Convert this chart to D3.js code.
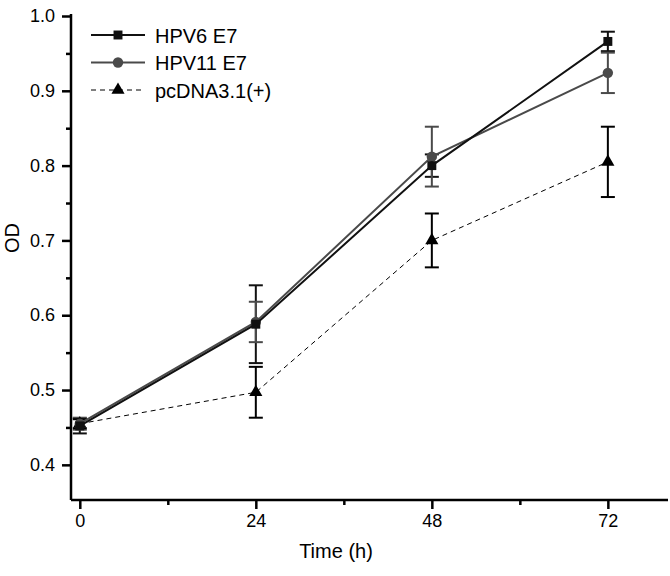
<!DOCTYPE html>
<html><head><meta charset="utf-8">
<script src="https://cdn.jsdelivr.net/npm/d3@7"></script>
<style>body{margin:0;background:#fff}text{font-family:"Liberation Sans",Arial,sans-serif}</style>
</head><body><svg id="c" width="670" height="576"></svg>
<script>
const times = [0, 24, 48, 72];
const hpv6 = [0.452, 0.588, 0.800, 0.966];
const hpv6Err = [0.010, 0.052, 0.015, 0.013];
const hpv11 = [0.455, 0.591, 0.812, 0.924];
const hpv11Err = [0.008, 0.027, 0.040, 0.027];
const pcdna = [0.455, 0.497, 0.700, 0.805];
const pcdnaErr = [0.006, 0.034, 0.036, 0.047];
const seriesNames = ["HPV6 E7", "HPV11 E7", "pcDNA3.1(+)"];
const xTicks = [0, 24, 48, 72];
const yTicks = [0.4, 0.5, 0.6, 0.7, 0.8, 0.9, 1.0];

const svg = d3.select("#c");
const x = d3.scaleLinear().domain([-1.2, 80.2]).range([71, 668]);
const y = d3.scaleLinear().domain([0.353, 1.0]).range([500, 16]);

const series = [
  {name: seriesNames[0], v: hpv6, e: hpv6Err, color: "#111", w: 2, dash: null, sym: d3.symbolSquare, size: 80},
  {name: seriesNames[1], v: hpv11, e: hpv11Err, color: "#4a4a4a", w: 2, dash: null, sym: d3.symbolCircle, size: 85},
  {name: seriesNames[2], v: pcdna, e: pcdnaErr, color: "#000", w: 1, dash: "5,4", sym: d3.symbolTriangle, size: 75}
];

// axes
const gx = svg.append("g").attr("transform", "translate(0,500)");
gx.call(d3.axisBottom(x).tickValues(xTicks).tickSize(9).tickPadding(5).tickFormat(d3.format("d")));
const gxm = svg.append("g").attr("transform", "translate(0,500)");
gxm.call(d3.axisBottom(x).tickValues([12, 36, 60]).tickSize(5).tickFormat(""));
const gy = svg.append("g").attr("transform", "translate(71,0)");
gy.call(d3.axisLeft(y).tickValues(yTicks).tickSize(9).tickPadding(7).tickFormat(d3.format(".1f")));
const gym = svg.append("g").attr("transform", "translate(71,0)");
gym.call(d3.axisLeft(y).tickValues([0.45, 0.55, 0.65, 0.75, 0.85, 0.95]).tickSize(5).tickFormat(""));
[gx, gxm, gy, gym].forEach(g => {
  g.attr("font-size", 18).attr("font-family", null);
  g.select(".domain").attr("stroke", "#000").attr("stroke-width", 2.5);
  g.selectAll(".tick line").attr("stroke", "#000").attr("stroke-width", 2.5);
  g.selectAll(".tick text").attr("fill", "#000");
});
gx.select(".domain").attr("d", `M${x.range()[0]},0H${x.range()[1]}`);
gy.select(".domain").attr("d", `M0,${y.range()[0]}V${y.range()[1]-2}`);
gxm.select(".domain").remove();
gym.select(".domain").remove();

svg.append("text").attr("x", 336).attr("y", 558).attr("text-anchor", "middle").attr("font-size", 20).text("Time (h)");
svg.append("text").attr("transform", "translate(19,238) rotate(-90)").attr("text-anchor", "middle").attr("font-size", 20).text("OD");

const line = d3.line().x((d, i) => x(times[i])).y(d => y(d));

// error bars
series.forEach(s => {
  const g = svg.append("g");
  s.v.forEach((v, i) => {
    const cx = x(times[i]), top = y(v + s.e[i]), bot = y(v - s.e[i]);
    g.append("line").attr("x1", cx).attr("x2", cx).attr("y1", top).attr("y2", bot).attr("stroke", s.color).attr("stroke-width", 2);
    [top, bot].forEach(yy => g.append("line").attr("x1", cx - 7).attr("x2", cx + 7).attr("y1", yy).attr("y2", yy).attr("stroke", s.color).attr("stroke-width", 2));
  });
});

// lines & markers
series.slice().reverse().forEach(s => {
  svg.append("path").datum(s.v).attr("d", line).attr("fill", "none").attr("stroke", s.color)
    .attr("stroke-width", s.w).attr("stroke-dasharray", s.dash);
  svg.selectAll(null).data(s.v).enter().append("path")
    .attr("d", d3.symbol().type(s.sym).size(s.size))
    .attr("transform", (d, i) => `translate(${x(times[i])},${y(d)})`)
    .attr("fill", s.color);
});

// legend
const lg = svg.append("g");
series.forEach((s, i) => {
  const yy = 35 + i * 27.5;
  lg.append("line").attr("x1", 91).attr("x2", 145).attr("y1", yy).attr("y2", yy)
    .attr("stroke", s.color).attr("stroke-width", s.w).attr("stroke-dasharray", s.dash);
  lg.append("path").attr("d", d3.symbol().type(s.sym).size(s.size)).attr("transform", `translate(118,${yy})`).attr("fill", s.color);
  lg.append("text").attr("x", 155).attr("y", yy + 7.5).attr("font-size", 20).text(s.name);
});
</script></body></html>
